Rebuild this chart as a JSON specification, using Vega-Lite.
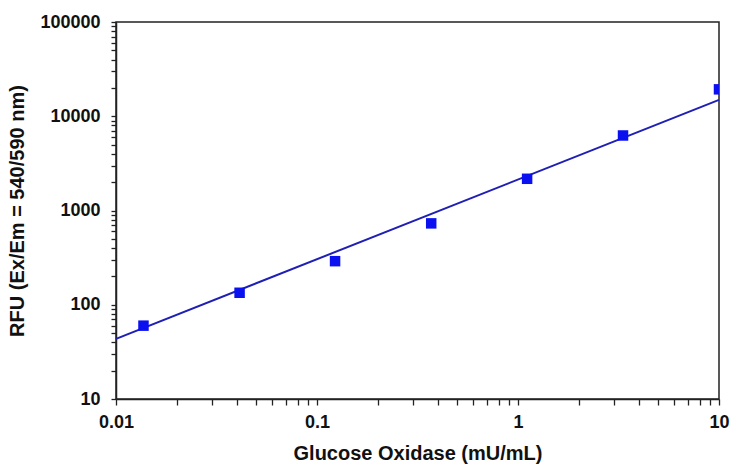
{
  "$schema": "https://vega.github.io/schema/vega-lite/v6.json",
  "width": 603,
  "height": 377,
  "autosize": {"type": "none"},
  "padding": {"left": 116, "top": 22, "right": 12, "bottom": 65},
  "background": "white",
  "config": {
    "view": {"stroke": "#222", "strokeWidth": 1.5},
    "font": "Liberation Sans",
    "axis": {"grid": false, "domainColor": "#222", "domainWidth": 1.5, "tickColor": "#222", "tickWidth": 1.3, "labelColor": "#111", "titleColor": "#111", "labelFlush": false}
  },
  "datasets": {
    "pts": [
      {"conc": 0.0137, "rfu": 60},
      {"conc": 0.0412, "rfu": 134},
      {"conc": 0.123, "rfu": 290},
      {"conc": 0.37, "rfu": 730},
      {"conc": 1.11, "rfu": 2170},
      {"conc": 3.33, "rfu": 6250},
      {"conc": 10, "rfu": 19300}
    ],
    "fit": [
      {"conc": 0.01, "rfu": 43.5},
      {"conc": 10, "rfu": 14900}
    ]
  },
  "layer": [
    {
      "data": {"name": "fit"},
      "mark": {"type": "line", "color": "#1f1fb4", "strokeWidth": 2},
      "encoding": {
        "x": {"field": "conc", "type": "quantitative", "scale": {"type": "log", "domain": [0.01, 10], "nice": false},
          "axis": {"orient": "bottom",
            "values": [0.01,0.02,0.03,0.04,0.05,0.06,0.07,0.08,0.09,0.1,0.2,0.3,0.4,0.5,0.6,0.7,0.8,0.9,1,2,3,4,5,6,7,8,9,10],
            "labelExpr": "indexof([0.01,0.1,1,10], datum.value) >= 0 ? format(datum.value, '~g') : ''",
            "tickSize": 6,
            "encode": {"ticks": {"update": {"y2": {"signal": "indexof([0.01,0.1,1,10], datum.value) >= 0 ? 6 : 3"}}}},
            "labelFontSize": 18, "labelFontWeight": "bold", "labelPadding": 8, "labelOverlap": false,
            "title": "Glucose Oxidase (mU/mL)", "titleFontSize": 20, "titleFontWeight": "bold", "titlePadding": 12}},
        "y": {"field": "rfu", "type": "quantitative", "scale": {"type": "log", "domain": [10, 100000], "nice": false},
          "axis": {"orient": "left",
            "values": [10,20,30,40,50,60,70,80,90,100,200,300,400,500,600,700,800,900,1000,2000,3000,4000,5000,6000,7000,8000,9000,10000,20000,30000,40000,50000,60000,70000,80000,90000,100000],
            "labelExpr": "indexof([10,100,1000,10000,100000], datum.value) >= 0 ? format(datum.value, 'd') : ''",
            "tickSize": 5,
            "labelFontSize": 18, "labelFontWeight": "bold", "labelPadding": 11, "labelOverlap": false,
            "title": "RFU (Ex/Em = 540/590 nm)", "titleFontSize": 20, "titleFontWeight": "bold", "titlePadding": 12}}
      }
    },
    {
      "data": {"name": "pts"},
      "mark": {"type": "square", "color": "#0a10f0", "opacity": 1, "size": 110, "clip": true},
      "encoding": {
        "x": {"field": "conc", "type": "quantitative"},
        "y": {"field": "rfu", "type": "quantitative"}
      }
    }
  ]
}
